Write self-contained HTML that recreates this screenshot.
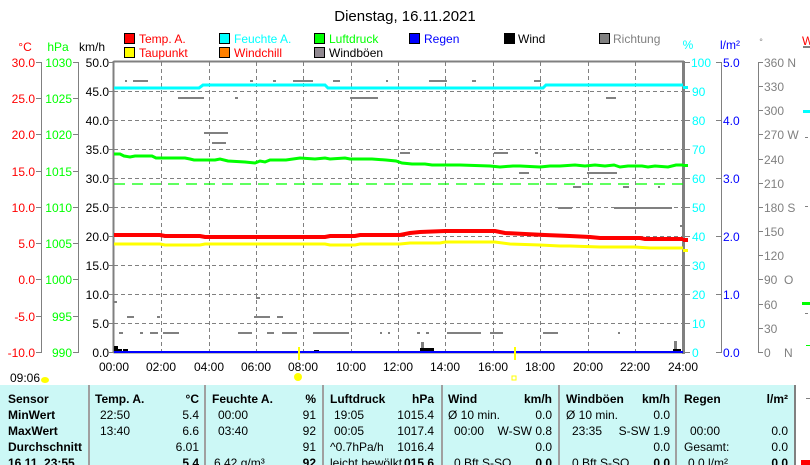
<!DOCTYPE html>
<html><head><meta charset="utf-8"><style>
body{margin:0;background:#fff;width:810px;height:465px;overflow:hidden;font-family:"Liberation Sans",sans-serif}
svg{display:block}
</style></head><body>
<svg width="810" height="465" xmlns="http://www.w3.org/2000/svg" font-family="Liberation Sans, sans-serif" font-size="12">
<rect width="810" height="465" fill="#fff"/>
<text x="405" y="21" font-size="15" text-anchor="middle">Dienstag, 16.11.2021</text>
<g font-size="12">
<rect x="124.5" y="33.5" width="10" height="10" fill="#f00" stroke="#000"/><text x="139" y="43" fill="#f00">Temp. A.</text>
<rect x="219.5" y="33.5" width="10" height="10" fill="#0ff" stroke="#000"/><text x="234" y="43" fill="#0ff">Feuchte A.</text>
<rect x="314.5" y="33.5" width="10" height="10" fill="#0f0" stroke="#000"/><text x="329" y="43" fill="#0f0">Luftdruck</text>
<rect x="409.5" y="33.5" width="10" height="10" fill="#00f" stroke="#000"/><text x="424" y="43" fill="#00f">Regen</text>
<rect x="504.5" y="33.5" width="10" height="10" fill="#000" stroke="#000"/><text x="518" y="43">Wind</text>
<rect x="599.5" y="33.5" width="10" height="10" fill="#808080" stroke="#000"/><text x="613" y="43" fill="#808080">Richtung</text>
<rect x="124.5" y="47.5" width="10" height="10" fill="#ff0" stroke="#000"/><text x="139" y="57" fill="#f00">Taupunkt</text>
<rect x="219.5" y="47.5" width="10" height="10" fill="#ff8000" stroke="#000"/><text x="234" y="57" fill="#f00">Windchill</text>
<rect x="314.5" y="47.5" width="10" height="10" fill="#908890" stroke="#000"/><text x="329" y="57">Windböen</text>
</g>
<text x="25" y="51" fill="#f00" text-anchor="middle">°C</text>
<text x="58" y="51" fill="#0f0" text-anchor="middle">hPa</text>
<text x="92" y="51" text-anchor="middle">km/h</text>
<text x="688" y="49" fill="#0ff" text-anchor="middle">%</text>
<text x="730" y="49" fill="#00f" text-anchor="middle">l/m²</text>
<text x="761" y="45" fill="#808080" font-size="9" text-anchor="middle">°</text>
<text x="802" y="45" fill="#f00">W</text>
<rect x="803" y="46" width="7" height="2" fill="#808080"/>
<g stroke="#808080" stroke-dasharray="4,3" stroke-width="1">
<path d="M114 91.5H683M114 120.5H683M114 149.5H683M114 178.5H683M114 207.5H683M114 236.5H683M114 265.5H683M114 294.5H683M114 323.5H683"/>
<path d="M161.5 62V352M209.5 62V352M256.5 62V352M303.5 62V352M351.5 62V352M398.5 62V352M445.5 62V352M493.5 62V352M540.5 62V352M588.5 62V352M635.5 62V352"/>
</g>
<path d="M113.5 61.5H684M113.5 61V353M113.5 352.5H684" stroke="#808080" stroke-width="2" fill="none"/>
<rect x="682" y="61" width="3" height="293" fill="#808080"/>
<g stroke="#808080"><path d="M41.5 62V353M78.5 62V353M36 62.5H41M36 98.5H41M36 134.5H41M36 171.5H41M36 207.5H41M36 243.5H41M36 279.5H41M36 316.5H41M36 352.5H41M73 62.5H78M73 98.5H78M73 134.5H78M73 171.5H78M73 207.5H78M73 243.5H78M73 279.5H78M73 316.5H78M73 352.5H78M109 62.5H114M109 91.5H114M109 120.5H114M109 149.5H114M109 178.5H114M109 207.5H114M109 236.5H114M109 265.5H114M109 294.5H114M109 323.5H114M109 352.5H114"/></g>
<g fill="#f00" text-anchor="end"><text x="35" y="67">30.0</text><text x="35" y="103">25.0</text><text x="35" y="139">20.0</text><text x="35" y="176">15.0</text><text x="35" y="212">10.0</text><text x="35" y="248">5.0</text><text x="35" y="284">0.0</text><text x="35" y="321">-5.0</text><text x="35" y="357">-10.0</text></g>
<g fill="#0f0" text-anchor="end"><text x="72" y="67">1030</text><text x="72" y="103">1025</text><text x="72" y="139">1020</text><text x="72" y="176">1015</text><text x="72" y="212">1010</text><text x="72" y="248">1005</text><text x="72" y="284">1000</text><text x="72" y="321">995</text><text x="72" y="357">990</text></g>
<g text-anchor="end"><text x="109" y="67">50.0</text><text x="109" y="96">45.0</text><text x="109" y="125">40.0</text><text x="109" y="154">35.0</text><text x="109" y="183">30.0</text><text x="109" y="212">25.0</text><text x="109" y="241">20.0</text><text x="109" y="270">15.0</text><text x="109" y="299">10.0</text><text x="109" y="328">5.0</text><text x="109" y="357">0.0</text></g>
<g stroke="#808080"><path d="M721.5 62V353M758.5 62V353M685 62.5H690M685 91.5H690M685 120.5H690M685 149.5H690M685 178.5H690M685 207.5H690M685 236.5H690M685 265.5H690M685 294.5H690M685 323.5H690M685 352.5H690M716 62.5H721M716 120.5H721M716 178.5H721M716 236.5H721M716 294.5H721M716 352.5H721M758 62.5H763M758 86.5H763M758 110.5H763M758 134.5H763M758 159.5H763M758 183.5H763M758 207.5H763M758 231.5H763M758 255.5H763M758 279.5H763M758 304.5H763M758 328.5H763M758 352.5H763"/></g>
<g fill="#0ff"><text x="691" y="67">100</text><text x="692" y="96">90</text><text x="692" y="125">80</text><text x="692" y="154">70</text><text x="692" y="183">60</text><text x="692" y="212">50</text><text x="692" y="241">40</text><text x="692" y="270">30</text><text x="692" y="299">20</text><text x="692" y="328">10</text><text x="692" y="357">0</text></g>
<g fill="#00f"><text x="723" y="67">5.0</text><text x="723" y="125">4.0</text><text x="723" y="183">3.0</text><text x="723" y="241">2.0</text><text x="723" y="299">1.0</text><text x="723" y="357">0.0</text></g>
<g fill="#808080"><text x="764" y="67">360 N</text><text x="764" y="91">330</text><text x="764" y="115">300</text><text x="764" y="139">270 W</text><text x="764" y="164">240</text><text x="764" y="188">210</text><text x="764" y="212">180 S</text><text x="764" y="236">150</text><text x="764" y="260">120</text><text x="764" y="284">90&#160;&#160;O</text><text x="764" y="309">60</text><text x="764" y="333">30</text><text x="764" y="357">0&#160;&#160;&#160;&#160;N</text></g>
<rect x="803" y="110" width="7" height="3" fill="#0ff"/><rect x="805" y="137" width="3" height="1" fill="#808080"/><rect x="805" y="206" width="3" height="1" fill="#808080"/><rect x="802" y="302" width="8" height="3" fill="#0f0"/><rect x="805" y="313" width="3" height="1" fill="#808080"/><rect x="806" y="345" width="4" height="1" fill="#0f0"/>
<rect x="683" y="86" width="5" height="3" fill="#0ff"/><rect x="683" y="164" width="5" height="3" fill="#0f0"/><rect x="683" y="238" width="5" height="4" fill="#f00"/><rect x="683" y="249" width="5" height="3" fill="#ff0"/>
<g text-anchor="middle"><text x="114" y="371">00:00</text><text x="161" y="371">02:00</text><text x="209" y="371">04:00</text><text x="256" y="371">06:00</text><text x="303" y="371">08:00</text><text x="351" y="371">10:00</text><text x="398" y="371">12:00</text><text x="445" y="371">14:00</text><text x="493" y="371">16:00</text><text x="540" y="371">18:00</text><text x="588" y="371">20:00</text><text x="635" y="371">22:00</text><text x="683" y="371">24:00</text></g>
<text x="10" y="382">09:06</text>
<ellipse cx="45" cy="380" rx="4" ry="3" fill="#ff0"/>
<circle cx="298" cy="377" r="4" fill="#ff0"/>
<rect x="512" y="376" width="4" height="4" fill="none" stroke="#ff0"/>
<g fill="#808080">
<rect x="125" y="80" width="2" height="2"/><rect x="133" y="80" width="15" height="2"/><rect x="250" y="80" width="3" height="2"/><rect x="273" y="80" width="3" height="2"/><rect x="293" y="80" width="20" height="2"/><rect x="333" y="80" width="7" height="2"/><rect x="386" y="80" width="2" height="2"/><rect x="429" y="80" width="18" height="2"/><rect x="472" y="80" width="4" height="2"/><rect x="534" y="80" width="7" height="2"/>
<rect x="178" y="97" width="26" height="2"/><rect x="235" y="97" width="3" height="2"/><rect x="350" y="97" width="28" height="2"/><rect x="606" y="97" width="10" height="2"/>
<rect x="204" y="132" width="24" height="2"/><rect x="212" y="142" width="14" height="2"/>
<rect x="400" y="152" width="10" height="2"/><rect x="494" y="152" width="14" height="2"/><rect x="535" y="152" width="3" height="2"/>
<rect x="519" y="172" width="10" height="2"/><rect x="587" y="172" width="30" height="2"/><rect x="573" y="186" width="8" height="2"/><rect x="623" y="186" width="6" height="2"/><rect x="658" y="186" width="2" height="2"/>
<rect x="558" y="207" width="14" height="2"/><rect x="614" y="207" width="58" height="2"/><rect x="680" y="225" width="3" height="2"/>
<rect x="114" y="301" width="3" height="2"/><rect x="256" y="297" width="4" height="2"/>
<rect x="127" y="316" width="7" height="2"/><rect x="157" y="316" width="3" height="2"/><rect x="254" y="316" width="16" height="2"/><rect x="277" y="316" width="6" height="2"/>
<rect x="119" y="332" width="4" height="2"/><rect x="140" y="332" width="3" height="2"/><rect x="150" y="332" width="8" height="2"/><rect x="163" y="332" width="16" height="2"/><rect x="238" y="332" width="14" height="2"/><rect x="267" y="332" width="7" height="2"/><rect x="282" y="332" width="15" height="2"/><rect x="313" y="332" width="36" height="2"/><rect x="380" y="332" width="2" height="2"/><rect x="388" y="332" width="2" height="2"/><rect x="417" y="332" width="3" height="2"/><rect x="426" y="332" width="3" height="2"/><rect x="447" y="332" width="34" height="2"/><rect x="490" y="332" width="13" height="2"/><rect x="543" y="332" width="15" height="2"/><rect x="618" y="332" width="2" height="2"/>
<rect x="421" y="342" width="3" height="9"/><rect x="674" y="341" width="3" height="10"/>
</g>
<g fill="#000"><rect x="114" y="346" width="4" height="6"/><rect x="118" y="349" width="4" height="3"/><rect x="123" y="349" width="5" height="3"/><rect x="314" y="350" width="5" height="2"/><rect x="420" y="348" width="14" height="4"/><rect x="673" y="349" width="8" height="3"/></g>
<line x1="114" y1="352" x2="683" y2="352" stroke="#00f" stroke-width="2"/>
<rect x="298" y="347" width="2" height="13" fill="#ff0"/><rect x="514" y="347" width="2" height="13" fill="#ff0"/>
<polyline fill="none" stroke="#0ff" stroke-width="3" points="114,88 199,88 203,85 325,85 328,88 543,88 546,85 683,85"/>
<line x1="114" y1="184" x2="683" y2="184" stroke="#0f0" stroke-dasharray="11,7" stroke-width="1.2"/>
<polyline fill="none" stroke="#0f0" stroke-width="3" points="114,154 120,154 124,156 130,157 135,156 152,156 156,158 185,158 190,159 194,160 215,160 220,159 228,161 245,162 255,163 260,161 265,162 270,160 286,160 300,158 315,159 325,158 330,159 345,158 350,159 372,159 386,160 396,161 402,163 412,164 425,164 432,165 460,165 490,166 500,167 513,166 520,166 540,167 550,166 560,166 575,165 585,166 595,165 605,166 614,165 620,167 628,166 642,166 648,167 655,166 668,167 676,165 683,165"/>
<polyline fill="none" stroke="#f00" stroke-width="4" points="114,235 160,235 165,236 200,236 205,237 325,237 330,236 355,236 360,235 400,235 410,233 420,232 445,231 495,231 505,233 525,234 545,235 570,236 590,237 600,238 640,238 645,239 683,239"/>
<polyline fill="none" stroke="#ff0" stroke-width="3" points="114,244 160,244 165,245 200,245 205,244 325,244 330,245 355,245 360,244 400,244 410,243 440,243 445,242 495,242 510,244 540,245 560,246 570,246 600,247 635,247 650,248 683,248"/>
<rect x="0" y="385" width="795" height="80" fill="#ccf8f6"/>
<g stroke="#a0a0a0" stroke-width="2"><path d="M89 385V465M205 385V465M323 385V465M442 385V465M559 385V465M676 385V465"/></g>
<path d="M795 385V465" stroke="#808080" stroke-width="2"/>
<rect x="801" y="460" width="9" height="5" fill="#f00"/><rect x="806" y="398" width="4" height="1" fill="#808080"/>
<g font-weight="bold"><text x="8" y="403">Sensor</text><text x="8" y="419">MinWert</text><text x="8" y="435">MaxWert</text><text x="8" y="451">Durchschnitt</text><text x="8" y="467">16.11. 23:55</text>
<text x="95" y="403">Temp. A.</text><text x="199" y="403" text-anchor="end">°C</text>
<text x="212" y="403">Feuchte A.</text><text x="316" y="403" text-anchor="end">%</text>
<text x="330" y="403">Luftdruck</text><text x="434" y="403" text-anchor="end">hPa</text>
<text x="448" y="403">Wind</text><text x="552" y="403" text-anchor="end">km/h</text>
<text x="566" y="403">Windböen</text><text x="670" y="403" text-anchor="end">km/h</text>
<text x="684" y="403">Regen</text><text x="788" y="403" text-anchor="end">l/m²</text>
<text x="199" y="467" text-anchor="end">5.4</text><text x="316" y="467" text-anchor="end">92</text><text x="434" y="467" text-anchor="end">015.6</text><text x="552" y="467" text-anchor="end">0.0</text><text x="670" y="467" text-anchor="end">0.0</text><text x="788" y="467" text-anchor="end">0.0</text></g>
<g><text x="100" y="419">22:50</text><text x="199" y="419" text-anchor="end">5.4</text><text x="100" y="435">13:40</text><text x="199" y="435" text-anchor="end">6.6</text><text x="199" y="451" text-anchor="end">6.01</text>
<text x="218" y="419">00:00</text><text x="316" y="419" text-anchor="end">91</text><text x="218" y="435">03:40</text><text x="316" y="435" text-anchor="end">92</text><text x="316" y="451" text-anchor="end">91</text><text x="214" y="467">6.42 g/m³</text>
<text x="334" y="419">19:05</text><text x="434" y="419" text-anchor="end">1015.4</text><text x="334" y="435">00:05</text><text x="434" y="435" text-anchor="end">1017.4</text><text x="330" y="451">^0.7hPa/h</text><text x="434" y="451" text-anchor="end">1016.4</text><text x="330" y="467">leicht bewölkt</text>
<text x="448" y="419">Ø 10 min.</text><text x="552" y="419" text-anchor="end">0.0</text><text x="454" y="435">00:00</text><text x="552" y="435" text-anchor="end">W-SW 0.8</text><text x="552" y="451" text-anchor="end">0.0</text><text x="454" y="467">0 Bft S-SO</text>
<text x="566" y="419">Ø 10 min.</text><text x="670" y="419" text-anchor="end">0.0</text><text x="572" y="435">23:35</text><text x="670" y="435" text-anchor="end">S-SW 1.9</text><text x="670" y="451" text-anchor="end">0.0</text><text x="572" y="467">0 Bft S-SO</text>
<text x="690" y="435">00:00</text><text x="788" y="435" text-anchor="end">0.0</text><text x="684" y="451">Gesamt:</text><text x="788" y="451" text-anchor="end">0.0</text><text x="688" y="467">0.0 l/m²</text></g>
</svg>
</body></html>
